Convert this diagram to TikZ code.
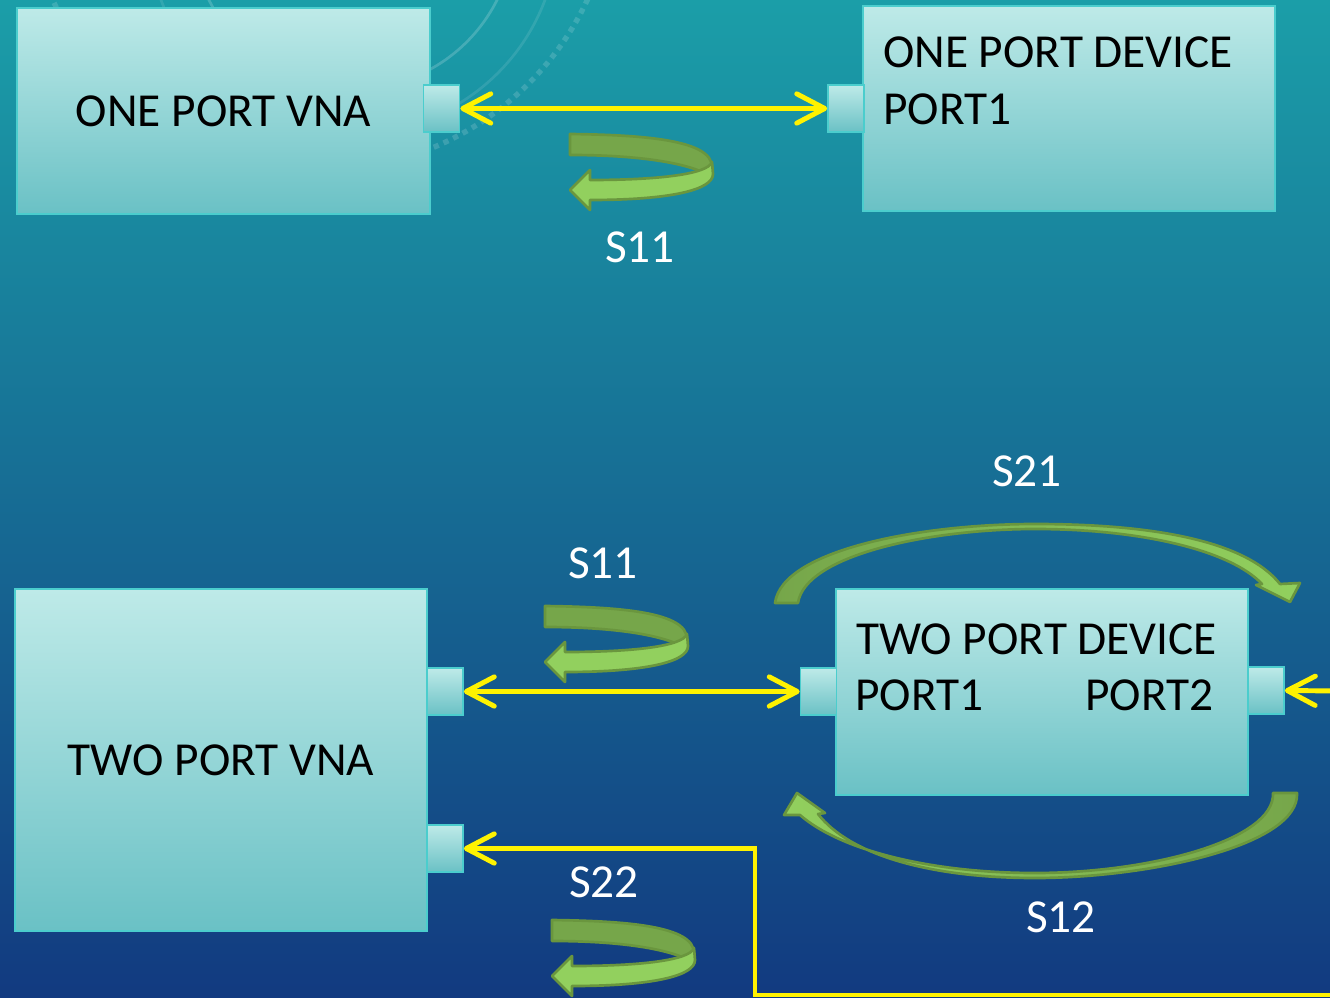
\documentclass[tikz,border=0pt]{standalone}
\usepackage{fontspec}
\setmainfont{Carlito}
\usetikzlibrary{arrows.meta}

\definecolor{bgTop}{RGB}{27,158,168}
\definecolor{bgMid}{RGB}{22,100,152}
\definecolor{bgBot}{RGB}{18,58,128}
\definecolor{boxTop}{RGB}{190,234,232}
\definecolor{boxBot}{RGB}{106,193,197}
\definecolor{boxEdge}{RGB}{75,205,205}
\definecolor{greenEdge}{RGB}{106,150,62}
\definecolor{greenDark}{RGB}{118,166,74}
\definecolor{greenLight}{RGB}{146,208,94}

\tikzset{
  vnabox/.style={draw=boxEdge, line width=1.5pt, top color=boxTop, bottom color=boxBot,
    inner sep=0pt, font=\fontsize{35.5}{42}\selectfont},
  portbox/.style={draw=boxEdge, line width=1.2pt, top color=boxTop, bottom color=boxBot,
    minimum width=27pt, minimum height=35.25pt, inner sep=0pt},
  ylink/.style={yellow, line width=3.7pt, line join=miter},
  slabel/.style={text=white, inner sep=0pt, font=\fontsize{35.5}{42}\selectfont},
  devtext/.style={anchor=base west, inner sep=0pt, font=\fontsize{35.5}{42}\selectfont},
  greenband/.style={draw=greenEdge, line width=2pt, line join=round},
  >={Straight Barb[length=21pt,width=22pt,round]},
  uturn/.pic={
    \filldraw[greenband, fill=greenDark]
      (0,0) .. controls (75,1) and (142,6) .. (142,33) -- (130,37)
      .. controls (105,27) and (60,21) .. (0,21) -- cycle;
    \filldraw[greenband, fill=greenLight]
      (142,28) .. controls (138,40) and (90,46) .. (20,46) -- (20,36) -- (0,56)
      -- (20,76) -- (20,66) .. controls (100,66) and (143,56) .. (143,40) -- cycle;
  }
}

\begin{document}
\begin{tikzpicture}[x=0.75pt, y=-0.75pt]
\useasboundingbox (0,0) rectangle (1330,998);
\clip (0,0) rectangle (1330,998);

% Background
\shade[top color=bgTop, middle color=bgMid, bottom color=bgBot] (0,0) rectangle (1330,998);
\draw[white, opacity=0.18, line width=2pt] (353,-72) circle[radius=161];
\draw[white, opacity=0.10, line width=2pt] (353,-72) circle[radius=205];
\draw[white, opacity=0.15, line width=4pt, dash pattern=on 4pt off 4pt] (320,-125) circle[radius=295];

% --- One port measurement ---
\node[vnabox, minimum width=309.75pt, minimum height=154.5pt] (vnaOne) at (223.5,111) {ONE PORT VNA};
\node[vnabox, minimum width=309pt, minimum height=153.75pt] (devOne) at (1069,108.5) {};
\node[devtext] (devOneName) at (883,68) {ONE PORT DEVICE};
\node[devtext] (devOnePort) at (883,125) {PORT1};

\node[portbox] (vnaOneP) at (441.5,108.5) {};
\node[portbox] (devOneP) at (846,108.5) {};
\draw[ylink, <->] (vnaOneP.east) -- (devOneP.west);

\pic at (570,134) {uturn};
\node[slabel] (sOneTop) at (640,247) {S11};

% --- Two port measurement ---
\node[vnabox, minimum width=309pt, minimum height=256.5pt] (vnaTwo) at (221,760) {TWO PORT VNA};
\node[vnabox, minimum width=309pt, minimum height=154.5pt] (devTwo) at (1042,692) {};
\node[devtext] (devTwoName) at (856,654) {TWO PORT DEVICE};
\node[devtext] (devTwoPortA) at (855,710) {PORT1};
\node[devtext] (devTwoPortB) at (1085,710) {PORT2};

\node[portbox] (vnaTwoP1) at (445,691.5) {};
\node[portbox] (vnaTwoP2) at (445,848.5) {};
\node[portbox] (devTwoP1) at (818.5,691.5) {};
\node[portbox] (devTwoP2) at (1266,690.5) {};

\draw[ylink, <->] (vnaTwoP1.east) -- (devTwoP1.west);

\coordinate (offRight) at (1340,691);
\draw[ylink, ->] (offRight) -- (devTwoP2.east);

\coordinate (offBottom) at (1340,995);
\coordinate (loopCorner) at (755,848.5);
\draw[ylink, ->] (offBottom) -| (loopCorner) -- (vnaTwoP2.east);

% Reflection arrows
\pic at (545,606) {uturn};
\node[slabel] (sOneBot) at (603,563) {S11};
\pic at (552,920) {uturn};
\node[slabel] (sTwoTwo) at (604,882) {S22};

% Transmission arrows
\shadedraw[greenband, left color=greenDark, right color=greenLight]
  (775,603) .. controls (782,550) and (920,524) .. (1035,524)
  .. controls (1150,524) and (1245,540) .. (1280,584)
  -- (1300,583) -- (1290,602) -- (1256,585) -- (1262,584)
  .. controls (1230,550) and (1140,529) .. (1035,529)
  .. controls (930,529) and (805,555) .. (798,603) -- cycle;
\node[slabel] (sTwoOne) at (1027,471) {S21};

\shadedraw[greenband, left color=greenLight, right color=greenDark]
  (1297,793) .. controls (1300,845) and (1150,878) .. (1035,878)
  .. controls (930,878) and (850,855) .. (818,814)
  -- (825,813) -- (797,793) -- (784,815) -- (800,815)
  .. controls (840,850) and (930,873) .. (1035,873)
  .. controls (1150,873) and (1275,840) .. (1273,793) -- cycle;
\node[slabel] (sOneTwo) at (1061,917) {S12};

\end{tikzpicture}
\end{document}
